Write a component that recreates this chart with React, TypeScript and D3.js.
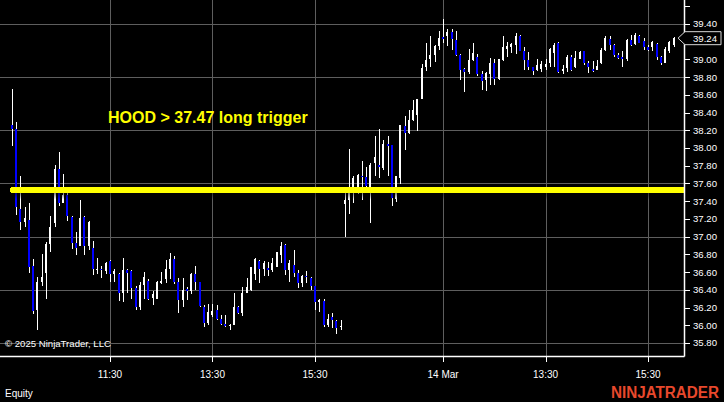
import React from "react";
import * as d3 from "d3";

// 5-minute bars, 13 Mar (0-77) and 14 Mar (78-155)
const openP = [
  38.26, 38.22, 37.31, 37.17, 37.19, 36.67, 36.17, 36.49, 36.59, 36.92,
  37.15, 37.76, 37.38, 37.47, 37.22, 36.93, 36.89, 37.22, 36.89, 36.87,
  36.62, 36.64, 36.61, 36.72, 36.58, 36.58, 36.36, 36.62, 36.61, 36.42,
  36.21, 36.46, 36.5, 36.31, 36.3, 36.48, 36.52, 36.63, 36.75, 36.49,
  36.28, 36.41, 36.39, 36.58, 36.49, 36.21, 36.03, 36.12, 36.17, 36.07,
  36.01, 35.99, 36.0, 36.21, 36.14, 36.36, 36.4, 36.58, 36.73, 36.63,
  36.65, 36.62, 36.66, 36.79, 36.91, 36.62, 36.68, 36.59, 36.48, 36.56,
  36.53, 36.44, 36.26, 36.27, 36.0, 36.09, 36.05, 35.98,
  37.37, 37.41, 37.5, 37.55, 37.69, 37.67, 37.56, 37.83, 37.81, 37.77,
  38.05, 38.03, 37.42, 37.66, 38.25, 38.17, 38.32, 38.37, 38.55, 38.92,
  39.01, 39.05, 39.15, 39.25, 39.26, 39.31, 39.22, 39.05, 38.89, 38.86,
  38.99, 39.03, 38.84, 38.77, 38.84, 38.96, 38.78, 38.99, 39.12, 39.14,
  39.16, 39.26, 39.1, 38.99, 38.92, 38.88, 38.89, 38.92, 38.96, 39.07,
  39.18, 38.87, 38.9, 39.03, 38.91, 39.01, 39.09, 38.96, 38.89, 38.88,
  38.96, 39.11, 39.23, 39.16, 39.05, 39.03, 39.0, 39.22, 39.17, 39.27,
  39.21, 39.14, 39.14, 39.17, 39.03, 38.96, 39.1, 39.16,
];
const highP = [
  38.67, 38.29, 37.68, 37.34, 37.38, 36.75, 36.55, 36.81, 36.94, 37.23,
  37.81, 37.95, 37.71, 37.51, 37.23, 37.05, 37.41, 37.23, 37.18, 36.95,
  36.76, 36.67, 36.71, 36.74, 36.64, 36.59, 36.76, 36.64, 36.62, 36.44,
  36.49, 36.6, 36.52, 36.39, 36.5, 36.6, 36.74, 36.82, 36.78, 36.53,
  36.53, 36.43, 36.59, 36.67, 36.49, 36.23, 36.24, 36.24, 36.23, 36.12,
  36.12, 36.02, 36.36, 36.22, 36.43, 36.53, 36.66, 36.76, 36.74, 36.72,
  36.71, 36.76, 36.83, 36.94, 36.92, 36.74, 36.85, 36.62, 36.57, 36.61,
  36.54, 36.44, 36.3, 36.3, 36.13, 36.14, 36.06, 36.06,
  37.5, 37.99, 37.68, 37.71, 37.85, 37.79, 37.83, 38.14, 38.21, 38.09,
  38.14, 38.04, 37.69, 38.26, 38.36, 38.43, 38.54, 38.55, 38.95, 39.18,
  39.26, 39.16, 39.32, 39.46, 39.34, 39.34, 39.32, 39.06, 38.9, 39.12,
  39.18, 39.06, 38.87, 38.86, 39.02, 39.0, 39.01, 39.26, 39.2, 39.18,
  39.3, 39.28, 39.14, 39.08, 38.92, 39.0, 38.98, 39.0, 39.13, 39.18,
  39.2, 38.94, 39.05, 39.05, 39.09, 39.09, 39.1, 38.98, 38.98, 38.99,
  39.13, 39.27, 39.27, 39.17, 39.07, 39.09, 39.23, 39.28, 39.3, 39.28,
  39.24, 39.16, 39.21, 39.19, 39.04, 39.14, 39.21, 39.25,
];
const lowP = [
  38.02, 37.24, 37.07, 37.11, 36.59, 36.13, 35.95, 36.44, 36.3, 36.83,
  37.11, 37.35, 37.38, 37.18, 36.86, 36.79, 36.89, 36.79, 36.85, 36.57,
  36.58, 36.53, 36.58, 36.49, 36.49, 36.27, 36.26, 36.36, 36.3, 36.17,
  36.17, 36.3, 36.28, 36.23, 36.3, 36.47, 36.48, 36.52, 36.47, 36.14,
  36.21, 36.29, 36.35, 36.4, 36.21, 35.98, 36.0, 36.09, 36.06, 36.0,
  35.98, 35.95, 36.0, 36.13, 36.11, 36.36, 36.39, 36.51, 36.48, 36.56,
  36.56, 36.6, 36.66, 36.7, 36.57, 36.49, 36.54, 36.42, 36.43, 36.48,
  36.4, 36.17, 36.15, 35.98, 35.98, 35.97, 35.9, 35.95,
  37.0, 37.26, 37.38, 37.48, 37.41, 37.53, 37.15, 37.68, 37.66, 37.75,
  37.68, 37.35, 37.39, 37.6, 37.98, 38.16, 38.31, 38.19, 38.55, 38.87,
  38.91, 38.97, 39.11, 39.18, 39.15, 39.11, 39.04, 38.77, 38.63, 38.84,
  38.98, 38.81, 38.66, 38.64, 38.71, 38.71, 38.77, 38.98, 39.03, 39.07,
  39.06, 39.09, 38.88, 38.88, 38.82, 38.87, 38.86, 38.88, 38.92, 38.92,
  38.85, 38.84, 38.86, 38.87, 38.9, 39.0, 38.94, 38.85, 38.86, 38.88,
  38.95, 39.1, 39.11, 39.03, 39.0, 38.92, 38.98, 39.15, 39.16, 39.18,
  39.11, 39.09, 39.09, 38.99, 38.94, 38.96, 39.07, 39.14,
];
const closeP = [
  38.22, 37.33, 37.17, 37.21, 36.66, 36.16, 36.49, 36.55, 36.92, 37.11,
  37.76, 37.38, 37.47, 37.23, 36.93, 36.87, 37.21, 36.89, 37.17, 36.63,
  36.64, 36.62, 36.7, 36.58, 36.61, 36.36, 36.62, 36.59, 36.42, 36.21,
  36.46, 36.55, 36.3, 36.35, 36.49, 36.5, 36.64, 36.75, 36.49, 36.28,
  36.4, 36.39, 36.58, 36.49, 36.22, 36.03, 36.15, 36.16, 36.07, 36.01,
  35.99, 36.0, 36.21, 36.14, 36.36, 36.43, 36.66, 36.75, 36.63, 36.7,
  36.62, 36.7, 36.83, 36.89, 36.62, 36.7, 36.59, 36.48, 36.56, 36.54,
  36.44, 36.26, 36.28, 36.0, 36.07, 36.06, 35.97, 35.99,
  37.41, 37.5, 37.66, 37.7, 37.67, 37.57, 37.81, 37.9, 37.79, 38.05,
  38.02, 37.44, 37.68, 38.26, 38.17, 38.32, 38.43, 38.55, 38.9, 38.99,
  39.05, 39.15, 39.24, 39.23, 39.31, 39.23, 39.05, 38.88, 38.86, 38.99,
  39.07, 38.84, 38.76, 38.85, 38.96, 38.78, 39.0, 39.14, 39.15, 39.17,
  39.26, 39.1, 38.99, 38.92, 38.87, 38.94, 38.95, 38.95, 39.12, 39.16,
  38.86, 38.89, 39.03, 38.88, 39.02, 39.08, 38.96, 38.91, 38.87, 38.93,
  39.11, 39.24, 39.16, 39.05, 39.02, 39.0, 39.22, 39.16, 39.28, 39.19,
  39.14, 39.11, 39.2, 39.03, 38.96, 39.12, 39.2, 39.24,
];

const timeTickBars = [23, 47, 71, 101, 125, 149];
const timeTickLabels = ["11:30", "13:30", "15:30", "14 Mar", "13:30", "15:30"];
const priceTicks = [35.8, 36.0, 36.2, 36.4, 36.6, 36.8, 37.0, 37.2, 37.4, 37.6, 37.8, 38.0, 38.2, 38.4, 38.6, 38.8, 39.0, 39.2, 39.4, 39.6];
const priceTickLabels = ["35.80", "36.00", "36.20", "36.40", "36.60", "36.80", "37.00", "37.20", "37.40", "37.60", "37.80", "38.00", "38.20", "38.40", "38.60", "38.80", "39.00", "", "39.40", ""];
const gridPrices = [35.8, 36.4, 37.0, 37.6, 38.2, 38.8, 39.4];
const triggerPrice = 37.53;
const triggerLabel = "HOOD > 37.47 long trigger";
const lastPrice = 39.24;
const lastPriceLabel = "39.24";

const W = 724;
const H = 402;
const PR = 684;
const PB = 356;
const FONT = "'Liberation Sans', Arial, sans-serif";

export default function App() {
  const x = d3.scaleLinear().domain([0, openP.length - 1]).range([11.8, 673.65]);
  const y = d3.scaleLinear().domain([35.8, 39.4]).range([343, 24]);
  const yl = y(lastPrice);
  const yt = y(triggerPrice);

  return (
    <svg
      width={W}
      height={H}
      style={{ position: "absolute", left: 0, top: 0, background: "#000", display: "block" }}
      fontFamily={FONT}
    >
      <defs>
        <clipPath id="plot">
          <rect x={0} y={0} width={PR} height={PB} />
        </clipPath>
        <linearGradient id="shade" x1="0" y1="0" x2="0" y2="1">
          <stop offset="0" stopColor="#000" stopOpacity={0.55} />
          <stop offset="1" stopColor="#000" stopOpacity={0} />
        </linearGradient>
      </defs>
      <rect x={0} y={0} width={W} height={H} fill="#000" />
      {/* grid */}
      <g stroke="#5e5e5e" strokeWidth={1} shapeRendering="crispEdges">
        {gridPrices.map((p) => (
          <line key={"h" + p} x1={0} x2={PR} y1={Math.round(y(p)) + 0.5} y2={Math.round(y(p)) + 0.5} />
        ))}
        {timeTickBars.map((b) => (
          <line key={"v" + b} x1={Math.round(x(b)) + 0.5} x2={Math.round(x(b)) + 0.5} y1={0} y2={PB} />
        ))}
      </g>
      <text x={5} y={346.5} fill="#fff" fontSize={9.6}>© 2025 NinjaTrader, LLC</text>
      {/* candles */}
      <g clipPath="url(#plot)" shapeRendering="crispEdges">
        {openP.map((o, i) => {
          const c = closeP[i];
          const cx = Math.round(x(i));
          const top = y(Math.max(o, c));
          const bot = y(Math.min(o, c));
          const up = c >= o;
          return (
            <g key={i}>
              <rect x={cx} y={y(highP[i])} width={1} height={Math.max(1, y(lowP[i]) - y(highP[i]))} fill="#fff" />
              <rect x={cx - 1} y={top} width={2} height={Math.max(1, bot - top)} fill={up ? "#fff" : "#0000ff"} />
            </g>
          );
        })}
        <rect x={x(0)} y={yt + 3} width={PR - x(0)} height={7} fill="url(#shade)" />
        <line x1={x(0) + 1} x2={PR + 5} y1={yt} y2={yt} stroke="#ffff00" strokeWidth={6} strokeLinecap="round" />
      </g>
      <text x={108} y={122.5} fill="#ffff00" fontSize={16} fontWeight="bold">{triggerLabel}</text>
      {/* axes frame */}
      <line x1={PR + 0.5} x2={PR + 0.5} y1={0} y2={PB + 0.5} stroke="#fff" strokeWidth={1.5} />
      <line x1={0} x2={PR + 0.5} y1={PB + 0.5} y2={PB + 0.5} stroke="#fff" strokeWidth={1.5} />
      {/* price axis */}
      <g shapeRendering="crispEdges">
        {priceTicks.map((p) => (
          <line key={"pt" + p} x1={PR} x2={PR + 6} y1={Math.round(y(p)) + 0.5} y2={Math.round(y(p)) + 0.5} stroke="#fff" />
        ))}
      </g>
      {priceTicks.map((p, i) =>
        priceTickLabels[i] ? (
          <text key={"pl" + p} x={693} y={y(p) + 3.4} fill="#fff" fontSize={9.6}>
            {priceTickLabels[i]}
          </text>
        ) : null
      )}
      <polygon
        points={`678,${yl} 685,${yl - 6.5} 721,${yl - 6.5} 721,${yl + 6.5} 685,${yl + 6.5}`}
        fill="#000"
        stroke="#d8d8d8"
        strokeWidth={1}
      />
      <text x={693} y={yl + 3.4} fill="#fff" fontSize={9.6}>{lastPriceLabel}</text>
      {/* time axis */}
      <g shapeRendering="crispEdges">
        {timeTickBars.map((b) => (
          <line key={"tt" + b} x1={Math.round(x(b)) + 0.5} x2={Math.round(x(b)) + 0.5} y1={PB} y2={PB + 6} stroke="#fff" />
        ))}
      </g>
      {timeTickBars.map((b, i) => (
        <text key={"tl" + b} x={x(b)} y={377.5} fill="#fff" fontSize={10} textAnchor="middle">
          {timeTickLabels[i]}
        </text>
      ))}
      <text x={5} y={396.5} fill="#fff" fontSize={10}>Equity</text>
      <text x={611} y={398} fill="#e8482c" fontSize={16} fontWeight="bold" textLength={108} lengthAdjust="spacingAndGlyphs">
        NINJATRADER
      </text>
    </svg>
  );
}
